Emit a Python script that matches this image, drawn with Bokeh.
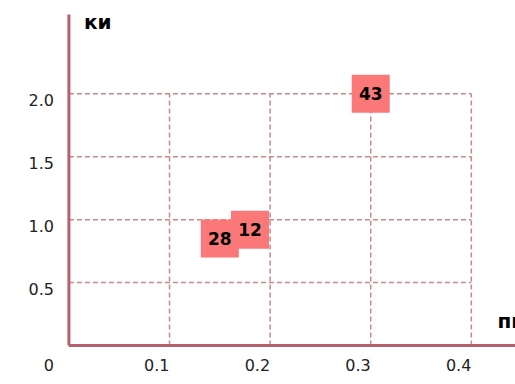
from bokeh.plotting import figure
from bokeh.models import Range1d
from bokeh.core.properties import value
from bokeh.embed import file_html
from bokeh.resources import INLINE

# ---- data ----
x_vals = [0.15, 0.18, 0.30]
y_vals = [0.85, 0.92, 2.0]
point_labels = ["28", "12", "43"]

x_ticks = [0.1, 0.2, 0.3, 0.4]
x_tick_labels = ["0.1", "0.2", "0.3", "0.4"]
y_ticks = [0.5, 1.0, 1.5, 2.0]
y_tick_labels = ["0.5", "1.0", "1.5", "2.0"]
origin_label = ["0"]
x_title = "пи"
y_title = "ки"

# ---- styles ----
AXIS_COLOR = "#B5606B"
GRID_COLOR = "#C48A8A"
BOX_COLOR = "#FA7878"
FONT = "DejaVu Sans"

# ranges chosen so that the plotting frame fills the whole canvas
X_START, X_END = -0.068, 0.4439
Y_START, Y_END = -0.3099, 2.7413
Y_AXIS_TOP = 2.630

p = figure(width=515, height=384, output_backend="svg", toolbar_location=None,
           x_range=Range1d(X_START, X_END), y_range=Range1d(Y_START, Y_END),
           min_border=0)
p.outline_line_color = None
p.grid.visible = False
p.axis.visible = False
p.background_fill_color = "white"
p.border_fill_color = "white"

# grid lines bounded by the tick extents
y_top = max(y_ticks)
x_right = max(x_ticks)
p.segment(x0=x_ticks, y0=[0] * len(x_ticks), x1=x_ticks, y1=[y_top] * len(x_ticks),
          line_color=GRID_COLOR, line_width=1.5, line_dash="5 3")
p.segment(x0=[0] * len(y_ticks), y0=y_ticks, x1=[x_right] * len(y_ticks), y1=y_ticks,
          line_color=GRID_COLOR, line_width=1.5, line_dash="5 3")

# axis lines
p.segment(x0=[0, 0], y0=[0, 0], x1=[X_END, 0], y1=[0, Y_AXIS_TOP],
          line_color=AXIS_COLOR, line_width=3)

# tick labels
common = dict(text_font=value(FONT), text_font_size="16px", text_color="#222222")
p.text(x=x_ticks, y=[0] * len(x_ticks), text=x_tick_labels,
       text_align="right", text_baseline="top", y_offset=14, **common)
p.text(x=[0] * len(y_ticks), y=y_ticks, text=y_tick_labels,
       text_align="right", text_baseline="top", x_offset=-15, y_offset=0, **common)
p.text(x=[0], y=[0], text=origin_label,
       text_align="right", text_baseline="top", x_offset=-15, y_offset=14, **common)

# points
p.scatter(x=x_vals, y=y_vals, marker="square", size=38,
          fill_color=BOX_COLOR, line_color=None)
p.text(x=x_vals, y=y_vals, text=point_labels,
       text_align="center", text_baseline="middle",
       text_font=value(FONT), text_font_style="bold", text_font_size="17px",
       text_color="black")

# axis titles
p.text(x=[0], y=[Y_AXIS_TOP], text=[y_title], text_align="left",
       text_baseline="alphabetic", x_offset=15, y_offset=7,
       text_font=value(FONT), text_font_style="bold", text_font_size="20px",
       text_color="black")
p.text(x=[X_END], y=[0], text=[x_title], text_align="left",
       text_baseline="alphabetic", x_offset=-18, y_offset=-24,
       text_font=value(FONT), text_font_style="bold", text_font_size="20px",
       text_color="black")

open("out.html", "w").write(file_html(p, INLINE))
